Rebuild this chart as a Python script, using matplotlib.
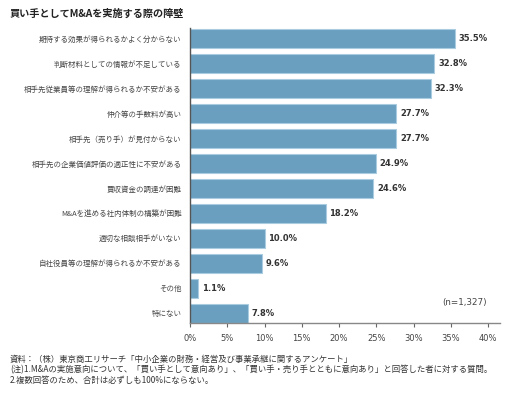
import matplotlib.pyplot as plt

plt.rcParams['font.family'] = ['Noto Sans CJK JP', 'DejaVu Sans']

labels = [
    "期待する効果が得られるかよく分からない",
    "判断材料としての情報が不足している",
    "相手先従業員等の理解が得られるか不安がある",
    "仲介等の手数料が高い",
    "相手先（売り手）が見付からない",
    "相手先の企業価値評価の適正性に不安がある",
    "買収資金の調達が困難",
    "M&Aを進める社内体制の構築が困難",
    "適切な相談相手がいない",
    "自社役員等の理解が得られるか不安がある",
    "その他",
    "特にない",
]
values = [35.5, 32.8, 32.3, 27.7, 27.7, 24.9, 24.6, 18.2, 10.0, 9.6, 1.1, 7.8]
xticks = [0, 5, 10, 15, 20, 25, 30, 35, 40]

fig = plt.figure(figsize=(5.1, 3.97), dpi=100)
ax = fig.add_axes([190 / 510, 1 - 323 / 397, 310 / 510, 295 / 397])

ypos = list(range(len(labels)))
ax.barh(ypos, values, height=0.76, color="#6a9fc0", edgecolor="#a9cce0", linewidth=0.8)

for y, v in zip(ypos, values):
    ax.text(v + 0.5, y, f"{v:.1f}%", va="center", ha="left", fontsize=6,
            fontweight="bold", color="#333333", family="DejaVu Sans")

ax.set_yticks(ypos)
ax.set_yticklabels(labels, fontsize=5.4, color="#444444")
ax.set_ylim(11.4, -0.44)
ax.set_xlim(0, 41.6)
ax.set_xticks(xticks)
ax.set_xticklabels([f"{t}%" for t in xticks], fontsize=6, color="#444444", family="DejaVu Sans")
ax.tick_params(axis="y", length=0, pad=6)
ax.tick_params(axis="x", length=3, color="#666666", pad=5)

for s in ["top", "right"]:
    ax.spines[s].set_visible(False)
ax.spines["left"].set_color("#555555")
ax.spines["bottom"].set_color("#888888")
ax.spines["left"].set_linewidth(1.0)
ax.spines["bottom"].set_linewidth(1.0)

ax.text(465 / 510, 1 - 303 / 397, "(n=1,327)", transform=fig.transFigure, ha="center",
        va="center", fontsize=6.3, color="#444444", family="DejaVu Sans")

fig.text(10 / 510, 1 - 14 / 397, "買い手としてM&Aを実施する際の障壁", fontsize=7.3,
         fontweight="bold", color="#222222", va="center", ha="left")

notes = [
    "資料：（株）東京商工リサーチ「中小企業の財務・経営及び事業承継に関するアンケート」",
    "(注)1.M&Aの実施意向について、「買い手として意向あり」、「買い手・売り手とともに意向あり」と回答した者に対する質問。",
    "2.複数回答のため、合計は必ずしも100%にならない。",
]
for i, n in enumerate(notes):
    fig.text(10 / 510, 1 - (359 + i * 11) / 397, n, fontsize=6, color="#333333",
             va="center", ha="left")

fig.savefig("out.png", dpi=100)
